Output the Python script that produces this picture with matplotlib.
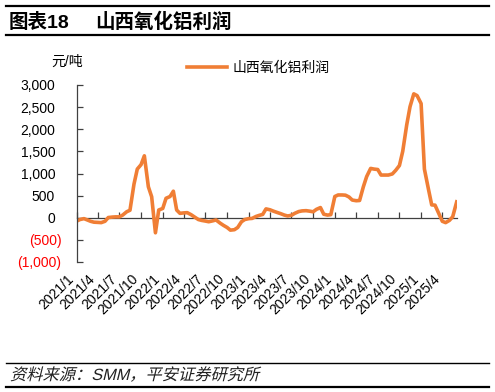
import numpy as np
import pandas as pd
import matplotlib
matplotlib.use('Agg')
from matplotlib import pyplot as plt
from matplotlib.lines import Line2D
from matplotlib.textpath import TextPath
from matplotlib.patches import PathPatch
from matplotlib.font_manager import FontProperties
from matplotlib.transforms import Affine2D, ScaledTranslation

plt.rcParams['font.family'] = ['Liberation Sans', 'Noto Sans CJK SC']

# semi-monthly profit of Shanxi alumina, yuan/t
dates = pd.date_range('2021-01-01', '2025-06-01', freq='SMS')
profit = [
    -75, -40, -20, -50, -80, -100,
    -105, -110, -80, 5, 15, 20,
    20, 60, 135, 170, 760, 1100,
    1200, 1400, 700, 475, -340, 175,
    210, 440, 480, 600, 175, 100,
    110, 115, 70, 20, -40, -60,
    -75, -90, -70, -50, -120, -170,
    -220, -280, -270, -220, -90, -40,
    -20, -15, 30, 55, 75, 200,
    180, 150, 120, 95, 60, 40,
    55, 100, 140, 155, 160, 150,
    135, 190, 230, 80, 60, 70,
    480, 515, 515, 510, 470, 400,
    385, 390, 700, 930, 1115, 1100,
    1090, 965, 965, 965, 990, 1070,
    1180, 1500, 2100, 2510, 2800, 2760,
    2580, 1100, 650, 290, 285, 120,
    -80, -110, -60, 22, 360,
]
series_name = '山西氧化铝利润'
xtick_dates = pd.date_range('2021-01-01', '2025-04-01', freq='QS')
xtick_labels = [f'{d.year}/{d.month}' for d in xtick_dates]
yticks = list(range(-1000, 3001, 500))

orange = '#F07E35'
axis_col = '#404040'

fig = plt.figure(figsize=(4.95, 3.92), dpi=100)
W, H = 495, 392

# header / footer rules
for y, lw in [(6, 1.6), (34.5, 1.6), (363, 1.0), (386.5, 1.6)]:
    fig.add_artist(Line2D([6 / W, 489 / W], [1 - y / H] * 2,
                          transform=fig.transFigure, color='black', lw=lw))

fig.text(9 / W, 1 - 22 / H, '图表18', fontsize=14, fontweight='bold', va='center')
fig.text(95 / W, 1 - 22 / H, '山西氧化铝利润', fontsize=14, fontweight='bold', va='center')

ax = fig.add_axes([76.7 / W, 1 - 262 / H, 380 / W, 177 / H])
ln = ax.plot(dates, profit, color=orange, lw=2.6, label=series_name,
             solid_joinstyle='round')
ax.set_xlim(dates[0], dates[-1])
ax.set_ylim(-1000, 3000)

for s in ['top', 'right', 'bottom']:
    ax.spines[s].set_visible(False)
ax.spines['left'].set_color(axis_col)
ax.spines['left'].set_linewidth(0.9)

ax.set_yticks(yticks)
ax.set_yticklabels([f'({abs(v):,})' if v < 0 else f'{v:,}' for v in yticks])
ax.tick_params(axis='y', direction='in', length=4, width=0.9, color=axis_col,
               labelsize=10, pad=11)
# accounting style: positives leave room for the closing bracket
shift = ScaledTranslation(-4.5 / 72, 0, fig.dpi_scale_trans)
for lab, v in zip(ax.get_yticklabels(), yticks):
    if v < 0:
        lab.set_color('#FF0000')
    else:
        lab.set_transform(lab.get_transform() + shift)

ax.set_xticks(xtick_dates)
ax.set_xticklabels(xtick_labels, rotation=45, ha='right')
ax.tick_params(axis='x', length=0, labelsize=10, pad=7)

# zero line with upward ticks
zero_pos = (0 - (-1000)) / (3000 - (-1000))
sec = ax.secondary_xaxis(zero_pos)
sec.set_xticks(xtick_dates)
sec.tick_params(direction='in', length=4, width=0.9, color=axis_col, labelbottom=False,
                labeltop=False)
for s in sec.spines.values():
    s.set_color(axis_col)
    s.set_linewidth(0.9)

fig.text(66.7 / W, 1 - 62 / H, '元/吨', fontsize=10, ha='center', va='center')

fig.legend(ln, [series_name], loc='center', bbox_to_anchor=(258 / W, 1 - 68.3 / H),
           frameon=False, fontsize=10, handlelength=2.9, handletextpad=0.4)

# italic source note (CJK font has no italic, so shear the text path)
src = '资料来源：SMM，平安证券研究所'
tp = TextPath((0, 0), src, size=11.7,
              prop=FontProperties(family=['Liberation Sans', 'Noto Sans CJK SC']))
tr = Affine2D().skew_deg(14, 0).scale(fig.dpi / 72).translate(10, H - 380)
fig.add_artist(PathPatch(tp, transform=tr, color='#222222', lw=0))

fig.savefig('out.png', dpi=100)
